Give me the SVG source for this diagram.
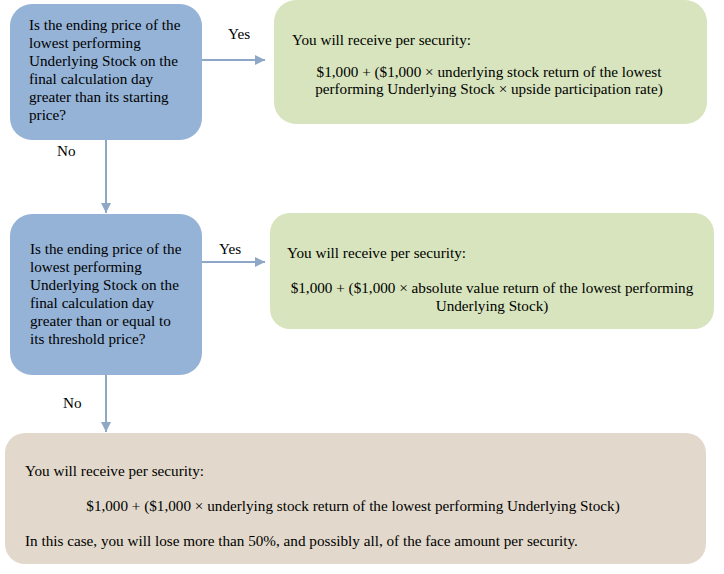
<svg xmlns="http://www.w3.org/2000/svg" width="724" height="574" viewBox="0 0 724 574">
<defs>
<style>
text{font-family:"Liberation Serif","Times New Roman",serif;font-size:15.2px;fill:#000}
.q{fill:#95B3D7}
.g{fill:#D7E4BD}
.b{fill:#E2D9CC}
.c{stroke:#8EA7C7;stroke-width:2;fill:none}
.m{text-anchor:middle}
</style>
<marker id="ah" viewBox="0 0 10 10" refX="10" refY="5" markerWidth="5" markerHeight="5" orient="auto" markerUnits="strokeWidth">
<path d="M0,0 L10,5 L0,10 z" fill="#8EA7C7"/>
</marker>
</defs>
<rect width="724" height="574" fill="#fff"/>
<g id="connectors">
<line class="c" x1="202" y1="60" x2="265" y2="60" marker-end="url(#ah)"/>
<line class="c" x1="106" y1="140" x2="106" y2="213" marker-end="url(#ah)"/>
<line class="c" x1="184" y1="262" x2="265" y2="262" marker-end="url(#ah)"/>
<line class="c" x1="106" y1="375" x2="106" y2="432" marker-end="url(#ah)"/>
<text x="228" y="39">Yes</text>
<text x="57" y="156">No</text>
<text x="219" y="254">Yes</text>
<text x="63" y="408">No</text>
</g>
<g id="q1">
<rect class="q" x="10" y="4" width="192" height="136" rx="22"/>
<text x="29" y="30">Is the ending price of the</text>
<text x="29" y="48">lowest performing</text>
<text x="29" y="66">Underlying Stock on the</text>
<text x="29" y="84">final calculation day</text>
<text x="29" y="102">greater than its starting</text>
<text x="29" y="120">price?</text>
</g>
<g id="r1">
<rect class="g" x="274" y="0" width="433" height="124" rx="22"/>
<text x="292" y="45">You will receive per security:</text>
<text class="m" x="489" y="77">$1,000 + ($1,000 × underlying stock return of the lowest</text>
<text class="m" x="489" y="94">performing Underlying Stock × upside participation rate)</text>
</g>
<g id="q2">
<rect class="q" x="10" y="214" width="192" height="161" rx="22"/>
<text x="30" y="254">Is the ending price of the</text>
<text x="30" y="272">lowest performing</text>
<text x="30" y="290">Underlying Stock on the</text>
<text x="30" y="308">final calculation day</text>
<text x="30" y="326">greater than or equal to</text>
<text x="30" y="344">its threshold price?</text>
</g>
<g id="r2">
<rect class="g" x="270" y="213" width="444" height="116" rx="20"/>
<text x="287" y="258">You will receive per security:</text>
<text class="m" x="492" y="293">$1,000 + ($1,000 × absolute value return of the lowest performing</text>
<text class="m" x="492" y="311">Underlying Stock)</text>
</g>
<g id="r3">
<rect class="b" x="5" y="433" width="701" height="131" rx="20"/>
<text x="25" y="476">You will receive per security:</text>
<text class="m" x="353" y="511">$1,000 + ($1,000 × underlying stock return of the lowest performing Underlying Stock)</text>
<text x="25" y="546">In this case, you will lose more than 50%, and possibly all, of the face amount per security.</text>
</g>
</svg>
